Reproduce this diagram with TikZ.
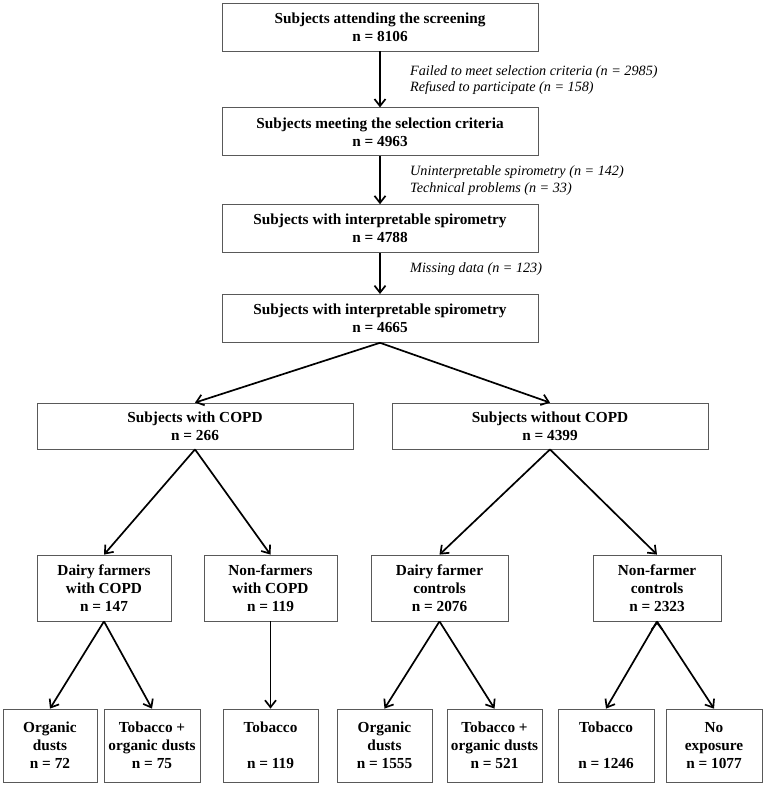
\documentclass[tikz,border=0pt]{standalone}
\usepackage{fontspec}
\setmainfont{Liberation Serif}
\usetikzlibrary{arrows.meta, positioning}

\begin{document}
\begin{tikzpicture}[x=1pt, y=1pt,
        box/.style={draw=black!65, line width=0.8pt, align=center, inner sep=2pt,
            font=\fontsize{15.3}{18}\selectfont\bfseries},
        colbox/.style={box, minimum width=316pt, minimum height=48pt},
        grpbox/.style={box, minimum width=316pt, minimum height=46pt},
        subbox/.style={box, minimum height=66pt},
        leafbox/.style={box, minimum height=73pt},
        note/.style={anchor=west, align=left, inner sep=0pt,
            font=\fontsize{14.2}{16.7}\selectfont\itshape},
        arr/.style={line width=1.7pt, -{Straight Barb[length=7pt, width=11pt]}}]
        \useasboundingbox (0,0) rectangle (764,-787);

        % Draw the main column
        \node[colbox] (scr) at (380,-27) {Subjects attending the screening\\n = 8106};
        \node[colbox, below=56pt of scr] (sel) {Subjects meeting the selection criteria\\n = 4963};
        \node[colbox, below=48pt of sel] (spi) {Subjects with interpretable spirometry\\n = 4788};
        \node[colbox, below=41pt of spi] (spm) {Subjects with interpretable spirometry\\n = 4665};

        % Draw the exclusions
        \node[note] (ex1) at (410,-80) {Failed to meet selection criteria (n = 2985)\\Refused to participate (n = 158)};
        \node[note] (ex2) at (410,-180.5) {Uninterpretable spirometry (n = 142)\\Technical problems (n = 33)};
        \node[note] (ex3) at (410,-269) {Missing data (n = 123)};

        % Draw the groups
        \node[grpbox] (copd)   at (195,-426) {Subjects with COPD\\n = 266};
        \node[grpbox] (nocopd) at (550,-426) {Subjects without COPD\\n = 4399};

        \node[subbox, minimum width=134pt] (dfc)   at (104,-588)   {Dairy farmers\\with COPD\\n = 147};
        \node[subbox, minimum width=133pt] (nfc)   at (270.5,-588) {Non-farmers\\with COPD\\n = 119};
        \node[subbox, minimum width=137pt] (dfctl) at (439.5,-588) {Dairy farmer\\controls\\n = 2076};
        \node[subbox, minimum width=128pt] (nfctl) at (657,-588)   {Non-farmer\\controls\\n = 2323};

        \node[leafbox, minimum width=94pt] (od1)   at (50,-745.5)    {Organic\\dusts\\n = 72};
        \node[leafbox, minimum width=96pt] (tod1)  at (152,-745.5)   {Tobacco +\\organic dusts\\n = 75};
        \node[leafbox, minimum width=95pt] (tob1)  at (270.5,-745.5) {Tobacco\\[18pt]n = 119};
        \node[leafbox, minimum width=95pt] (od2)   at (384.5,-745.5) {Organic\\dusts\\n = 1555};
        \node[leafbox, minimum width=95pt] (tod2)  at (494.5,-745.5) {Tobacco +\\organic dusts\\n = 521};
        \node[leafbox, minimum width=96pt] (tob2)  at (606,-745.5)   {Tobacco\\[18pt]n = 1246};
        \node[leafbox, minimum width=96pt] (noexp) at (714,-745.5)   {No\\exposure\\n = 1077};

        % Connect the boxes with arrows
        \draw[arr]
            (scr) edge (sel)
            (sel) edge (spi)
            (spi) edge (spm)

            (spm.south) edge (copd.north)
            (spm.south) edge (nocopd.north)

            (copd.south) edge (dfc.north)
            (copd.south) edge (nfc.north)
            (nocopd.south) edge (dfctl.north)
            (nocopd.south) edge (nfctl.north)

            (dfc.south) edge (od1.north)
            (dfc.south) edge (tod1.north)
            (nfc.south) edge (tob1.north)
            (dfctl.south) edge (od2.north)
            (dfctl.south) edge (tod2.north)
            (nfctl.south) edge (tob2.north)
            (nfctl.south) edge (noexp.north);
    \end{tikzpicture}
\end{document}
